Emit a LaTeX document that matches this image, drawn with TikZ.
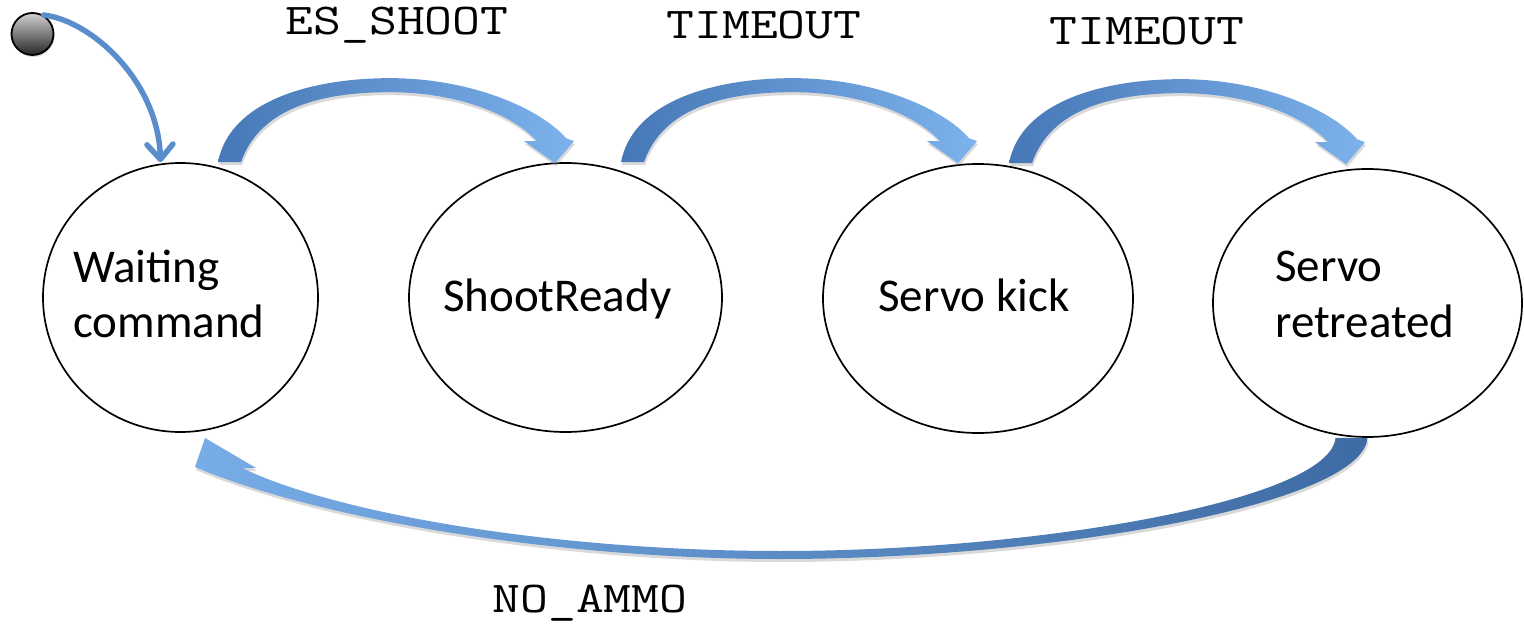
\documentclass[tikz,border=0pt]{standalone}
\usepackage{fontspec}
\setmainfont{Carlito}
\usetikzlibrary{arrows.meta,shapes.geometric,shadows}

\definecolor{arrowdark}{HTML}{4677B6}
\definecolor{arrowlight}{HTML}{7DB2EC}
\definecolor{initblue}{HTML}{5A8DCB}

\tikzset{
  state/.style={draw=black, line width=1.7pt, ellipse, fill=white, inner sep=0pt},
  statetext/.style={font=\fontsize{47}{55}\selectfont, inner sep=0pt, anchor=base west},
  eventlabel/.style={font=\ttfamily\fontsize{44}{50}\selectfont, inner sep=0pt},
  startdot/.style={circle, draw=black, line width=1.8pt, minimum size=42pt, inner sep=0pt,
    top color=black!18, bottom color=black!85,
    drop shadow={shadow xshift=1pt, shadow yshift=-2pt, opacity=0.3}},
  initarrow/.style={draw=initblue, line width=5.5pt, line cap=round,
    -{Straight Barb[length=15pt, width=26pt, round]}},
  blockarrow/.style={drop shadow={shadow xshift=1pt, shadow yshift=-3pt, opacity=0.3}},
  % curved tapered transition arrow, origin at the outer corner of its base
  toparrow/.pic={
    \path[blockarrow, left color=arrowdark, right color=arrowlight]
      (0,0) .. controls (12,-62) and (95,-84) .. (172,-84)
      .. controls (252,-84) and (322,-54) .. (348,-24)
      -- (356,-21) -- (337,1) -- (306,-21) -- (319,-21)
      .. controls (292,-50) and (235,-70) .. (172,-70)
      .. controls (105,-70) and (42,-55) .. (23,0) -- cycle;
  }
}

\newcommand{\evt}[1]{\scalebox{1.23}[1]{#1}}

\begin{document}
\begin{tikzpicture}[x=1pt, y=-1pt]
  \useasboundingbox (0,0) rectangle (1524,628);

  % states
  \node[state, minimum width=275pt, minimum height=269pt] (wait)  at (180.5,297.5) {};
  \node[state, minimum width=313pt, minimum height=269pt] (shoot) at (565.5,297.5) {};
  \node[state, minimum width=310pt, minimum height=269pt] (kick)  at (978,298.5) {};
  \node[state, minimum width=309pt, minimum height=268pt] (ret)   at (1367.5,303) {};

  % state names
  \node[statetext] (waitA)  at (73,283)   {Waiting};
  \node[statetext] (waitB)  at (73,338)   {command};
  \node[statetext] (shootA) at (443,312)  {ShootReady};
  \node[statetext] (kickA)  at (878,312)  {Servo kick};
  \node[statetext] (retA)   at (1275,282) {Servo};
  \node[statetext] (retB)   at (1275,338) {retreated};

  % initial pseudo-state
  \node[startdot] (init) at (32.5,34) {};
  \draw[initarrow] (init.60) .. controls (90,20) and (158,80) .. ([xshift=-20pt]wait.north);

  % forward transitions
  \coordinate (t1) at ([xshift=37.5pt]wait.north);
  \coordinate (t2) at ([xshift=55.5pt]shoot.north);
  \coordinate (t3) at ([xshift=31pt]kick.north);
  \pic at (t1) {toparrow};
  \pic at (t2) {toparrow};
  \pic at (t3) {toparrow};

  % return transition
  \coordinate (rb1) at ([xshift=-32pt]ret.south);
  \coordinate (rb2) at (ret.south);
  \path[blockarrow, left color=arrowlight!90!arrowdark, right color=arrowdark!90!black]
    (205,438) -- (256,468) -- (242,468)
    .. controls (340,515) and (560,551) .. (780,551)
    .. controls (1040,551) and (1330,500) .. (rb1)
    -- (rb2)
    .. controls (1362,505) and (1050,559) .. (780,559)
    .. controls (560,559) and (320,520) .. (195,467) -- cycle;

  % events
  \node[eventlabel] (e1) at (397,25)  {\evt{ES\_SHOOT}};
  \node[eventlabel] (e2) at (764,25)  {\evt{TIMEOUT}};
  \node[eventlabel] (e3) at (1147,31) {\evt{TIMEOUT}};
  \node[eventlabel] (e4) at (590,603) {\evt{NO\_AMMO}};
\end{tikzpicture}
\end{document}
